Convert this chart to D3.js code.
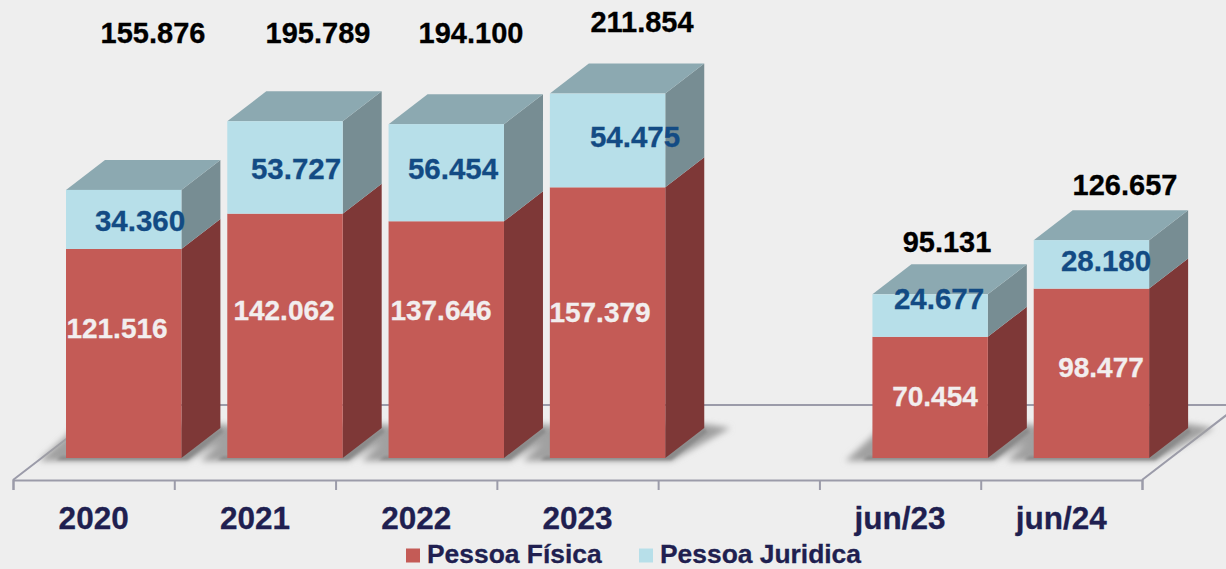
<!DOCTYPE html>
<html><head><meta charset="utf-8">
<script src="https://cdn.jsdelivr.net/npm/d3@7/dist/d3.min.js"></script>
<style>html,body{margin:0;padding:0;background:#eeeeee;overflow:hidden}svg{display:block}text{font-family:"Liberation Sans",Arial,sans-serif;font-weight:bold}</style>
</head><body><svg id="c" width="1226" height="569"></svg>
<script>
const categories = ["2020","2021","2022","2023","","jun/23","jun/24"];
const pessoaFisica = [121516,142062,137646,157379,null,70454,98477];
const pessoaJuridica = [34360,53727,56454,54475,null,24677,28180];
const totals = [155876,195789,194100,211854,null,95131,126657];
const seriesNames = ["Pessoa Física","Pessoa Juridica"];
// hand-placed label anchors as seen in the picture (layout, not data)
const totalAnchor = [[153,43],[318,43],[471,43],[642,32],null,[947,252],[1125,195]];
const pfAnchor = [[117,338],[284,320],[441,320],[600,322],null,[935,406],[1101,377]];
const pjAnchor = [[140,231],[296,179],[453,179],[635,147],null,[939,309],[1106,271]];

const svg = d3.select("#c");
const fmt = v => d3.format(",")(v).replace(/,/g,".");
const x = d3.scaleBand().domain(d3.range(categories.length)).range([13,1142]).paddingInner(0).paddingOuter(0);
const y = d3.scaleLinear().domain([0,100000]).range([458,286]);
const edge = d3.scaleLinear().domain([0,categories.length]).range([13,1142]);
const barW = 115.4, dx = 39, dy = 30, inset = 53;
const floorY = 480, backY = 405, ticks = 10;
const axisCol = "#9b9ba9";

const defs = svg.append("defs");
[["blur",3],["blurS",1.6]].forEach(([id,s])=>defs.append("filter").attr("id",id).attr("x","-20%").attr("y","-50%").attr("width","140%").attr("height","200%")
  .append("feGaussianBlur").attr("stdDeviation",s));

svg.append("rect").attr("width",1226).attr("height",569).attr("fill","#eeeeee");

// floor
const floorDx = (floorY-backY)*dx/dy;
svg.append("path").attr("fill","none").attr("stroke",axisCol).attr("stroke-width",2)
  .attr("d",`M${13+floorDx},${backY}H1240M13,${floorY}L${13+floorDx},${backY}M1142,${floorY}L${1142+floorDx},${backY}`);

const idx = d3.range(categories.length).filter(i => pessoaFisica[i] !== null);

// front axis and ticks
const axisTicks = d3.axisBottom(edge).tickValues(d3.range(categories.length+1)).tickSize(ticks).tickFormat("");
const gT = svg.append("g").attr("transform",`translate(0,${floorY})`).call(axisTicks);
gT.selectAll("path,line").attr("stroke",axisCol).attr("stroke-width",2);

const axisLabels = d3.axisBottom(d3.scaleBand().domain(categories.map((c,i)=>i)).range([13,1142]))
  .tickSize(0).tickFormat(i => categories[i]);
const gL = svg.append("g").attr("transform","translate(0,507)").call(axisLabels);
gL.select("path").remove();
gL.selectAll("text").attr("y",0).attr("font-size",31.5).attr("fill","#201f50").attr("font-family","Liberation Sans").attr("font-weight","bold").attr("dy","0.71em").attr("stroke","#201f50").attr("stroke-width",0.3);

// shadows
svg.append("g").attr("filter","url(#blur)").selectAll("path").data(idx).join("path")
  .attr("fill","#a0a0a0")
  .attr("d",i=>{const l=x(i)+inset,r=l+barW,b=y(0);
    return `M${l-27},${b+3}L${r+6},${b+3}L${r+dx+26},${b-30}L${r+dx},${b-34}L${l+10},${b-34}L${l},${b-22}Z`;});
svg.append("g").attr("filter","url(#blurS)").selectAll("path").data(idx).join("path")
  .attr("fill","#8a8a8a")
  .attr("d",i=>{const l=x(i)+inset,r=l+barW,b=y(0);
    return `M${l-10},${b+2}L${r+6},${b+2}L${r+dx+3},${b-26}L${r+dx},${b-30}L${r},${b-2}L${l-4},${b-2}Z`;});

function box(g,i,v0,v1,front,side,top){
  const l=x(i)+inset,r=l+barW,t=y(v1),b=y(v0);
  g.append("path").attr("fill",side).attr("d",`M${r},${t}L${r+dx},${t-dy}L${r+dx},${b-dy}L${r},${b}Z`);
  if(top) g.append("path").attr("fill",top).attr("d",`M${l},${t}L${l+dx},${t-dy}L${r+dx},${t-dy}L${r},${t}Z`);
  g.append("rect").attr("x",l).attr("y",t).attr("width",barW).attr("height",b-t).attr("fill",front);
}
const bars = svg.append("g");
idx.forEach(i=>{
  const g = bars.append("g");
  box(g,i,0,pessoaFisica[i],"#c45b56","#7e3837",null);
  box(g,i,pessoaFisica[i],pessoaFisica[i]+pessoaJuridica[i],"#b7dfe9","#778d93","#8ca9b1");
});

function labels(vals,anch,fill,size){
  svg.append("g").selectAll("text").data(idx).join("text")
    .attr("x",i=>anch[i][0]).attr("y",i=>anch[i][1])
    .attr("text-anchor","middle").attr("font-size",size).attr("fill",fill)
    .attr("stroke",fill).attr("stroke-width",0.3)
    .text(i=>fmt(vals[i]));
}
labels(pessoaFisica,pfAnchor,"#f2eeee",28);
labels(pessoaJuridica,pjAnchor,"#134b84",29.5);
labels(totals,totalAnchor,"#000000",29);

// legend
const legendColors = ["#c45b56","#b7dfe9"];
const legendX = [406,639];
const lg = svg.append("g").selectAll("g").data(seriesNames).join("g");
lg.append("rect").attr("x",(d,i)=>legendX[i]).attr("y",548.5).attr("width",14).attr("height",14).attr("fill",(d,i)=>legendColors[i]);
lg.append("text").attr("x",(d,i)=>legendX[i]+21).attr("y",563).attr("font-size",26.4).attr("fill","#201f50").attr("stroke","#201f50").attr("stroke-width",0.3).text(d=>d);
</script></body></html>
